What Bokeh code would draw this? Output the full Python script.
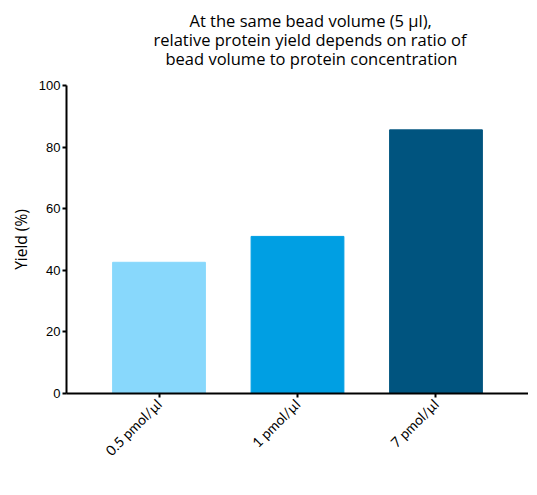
from math import pi

from bokeh.embed import file_html
from bokeh.models import ColumnDataSource, FactorRange, Title
from bokeh.plotting import figure
from bokeh.resources import INLINE

# data
concentrations = ["0.5 pmol/µl", "1 pmol/µl", "7 pmol/µl"]
yield_pct = [42.6, 51.0, 85.6]
bar_colors = ["#88D8FC", "#009FE3", "#00547F"]
y_ticks = [0, 20, 40, 60, 80, 100]
title_lines = [
    "At the same bead volume (5 µl),",
    "relative protein yield depends on ratio of",
    "bead volume to protein concentration",
]
# left offsets so each line is centred slightly right of the frame centre
title_offsets = [123, 87, 99]

source = ColumnDataSource(data=dict(x=concentrations, top=yield_pct, color=bar_colors))

p = figure(
    x_range=FactorRange(factors=concentrations, range_padding=0.112),
    y_range=(0, 100),
    frame_width=462, frame_height=308,
    min_border_left=66, min_border_right=0,
    min_border_top=85, min_border_bottom=94,
    output_backend="svg", toolbar_location=None,
)

p.vbar(x="x", top="top", width=0.67, color="color", source=source)

p.outline_line_color = None
p.grid.grid_line_color = None
p.background_fill_color = "white"

p.yaxis.ticker = y_ticks
p.yaxis.major_label_text_font = "Liberation Sans"
p.yaxis.major_label_text_font_size = "13px"
p.yaxis.major_label_standoff = 2
p.xaxis.major_label_text_font = "Lato"
p.xaxis.major_label_text_font_size = "14px"
p.xaxis.major_label_orientation = pi / 4
p.xaxis.major_label_standoff = 4

for ax in (p.xaxis, p.yaxis):
    ax.axis_line_width = 2
    ax.axis_line_color = "black"
    ax.major_tick_line_width = 2
    ax.major_tick_line_color = "black"
    ax.major_tick_out = 4
    ax.major_tick_in = 0
    ax.minor_tick_line_color = None
    ax.major_label_text_color = "black"

p.add_layout(Title(text="Yield (%)", align="center", standoff=8,
                   text_font="Open Sans", text_font_size="15.5px", text_font_style="normal",
                   text_color="black"), "left")

# spacer between frame and title, then the three title lines bottom-up
p.add_layout(Title(text=" ", text_font_size="1px", standoff=15), "above")
for line, off in reversed(list(zip(title_lines, title_offsets))):
    p.add_layout(Title(text=line, align="left", offset=off, vertical_align="middle",
                       standoff=-6.5, text_font="Open Sans", text_font_size="16.5px",
                       text_font_style="normal", text_color="black"), "above")

open("out.html", "w").write(file_html(p, INLINE))
